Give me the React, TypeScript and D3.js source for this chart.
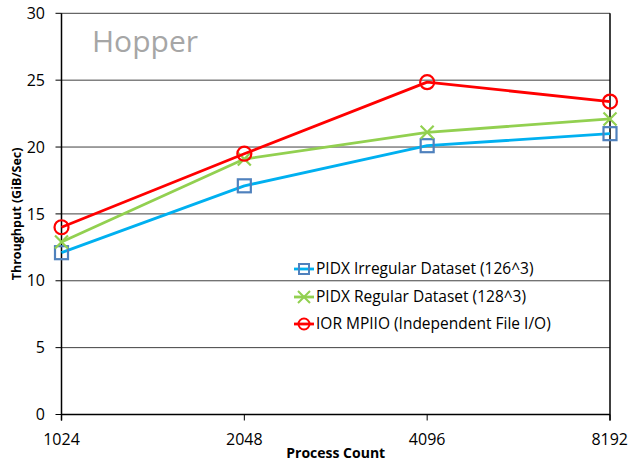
import React from "react";
import * as d3 from "d3";

const categories = ["1024", "2048", "4096", "8192"];
const irregular = [12.1, 17.1, 20.1, 21.0];
const regular = [12.9, 19.1, 21.1, 22.1];
const ior = [14.0, 19.5, 24.85, 23.4];
const yTicks = [0, 5, 10, 15, 20, 25, 30];
const seriesNames = [
  "PIDX Irregular Dataset (126^3)",
  "PIDX Regular Dataset (128^3)",
  "IOR MPIIO (Independent File I/O)",
];

const W = 631;
const H = 462;
const left = 61.5;
const right = 610;
const top = 13.3;
const bottom = 414.5;
const FONT = "'Open Sans', sans-serif";

export default function App() {
  const x = d3.scalePoint<string>().domain(categories).range([left, right]).padding(0);
  const y = d3.scaleLinear().domain([0, 30]).range([bottom, top]);
  const line = d3
    .line<number>()
    .x((_, i) => x(categories[i]) as number)
    .y((d) => y(d));

  const series = [
    { name: seriesNames[0], values: irregular, line: "#00b0f0", marker: "#4f81bd", shape: "square" },
    { name: seriesNames[1], values: regular, line: "#92d050", marker: "#92d050", shape: "x" },
    { name: seriesNames[2], values: ior, line: "#ff0000", marker: "#ff0000", shape: "circle" },
  ];

  const marker = (shape: string, color: string, cx: number, cy: number, key: string) => {
    if (shape === "square")
      return <rect key={key} x={cx - 6.5} y={cy - 6.5} width={13} height={13} fill="none" stroke={color} strokeWidth={2.2} />;
    if (shape === "circle")
      return <circle key={key} cx={cx} cy={cy} r={7} fill="none" stroke={color} strokeWidth={2.2} />;
    return (
      <path key={key} d={`M${cx - 6.5},${cy - 6.5}L${cx + 6.5},${cy + 6.5}M${cx - 6.5},${cy + 6.5}L${cx + 6.5},${cy - 6.5}`} stroke={color} strokeWidth={2.2} fill="none" />
    );
  };

  const legendY = [269, 297, 324];

  return (
    <svg width={W} height={H} style={{ position: "absolute", left: 0, top: 0, background: "#fff" }} fontFamily={FONT}>
      {yTicks.map((t) => (
        <line key={"g" + t} x1={left} x2={right} y1={y(t)} y2={y(t)} stroke={t === 0 ? "#000" : "#404040"} strokeWidth={t === 0 ? 1.5 : 1} />
      ))}
      <line x1={left} x2={left} y1={top} y2={bottom + 6} stroke="#000" strokeWidth={1.5} />
      <line x1={right} x2={right} y1={top} y2={bottom + 6} stroke="#000" strokeWidth={1.5} />
      {yTicks.map((t) => (
        <g key={"yt" + t}>
          <line x1={left - 6} x2={left} y1={y(t)} y2={y(t)} stroke="#000" strokeWidth={1} />
          <text x={45} y={y(t)} dy="0.35em" textAnchor="end" fontSize={16} fill="#000">
            {t}
          </text>
        </g>
      ))}
      {categories.map((c) => (
        <g key={"xt" + c}>
          <line x1={x(c)} x2={x(c)} y1={bottom} y2={bottom + 6} stroke="#000" strokeWidth={1} />
          <text x={x(c) as number} y={445} textAnchor={c === "8192" ? "end" : "middle"} dx={c === "8192" ? 18 : 0} fontSize={16} fill="#000">
            {c}
          </text>
        </g>
      ))}
      <text x={(left + right) / 2} y={458} textAnchor="middle" fontSize={14} fontWeight="bold" fill="#000">
        Process Count
      </text>
      <text transform={`translate(21,${(top + bottom) / 2}) rotate(-90)`} textAnchor="middle" fontSize={12.5} fontWeight="bold" fill="#000">
        Throughput (GiB/Sec)
      </text>
      <text x={92} y={52} fontSize={30} fill="#a6a6a6">
        Hopper
      </text>
      {series.map((s) => (
        <g key={s.name}>
          <path d={line(s.values) as string} fill="none" stroke={s.line} strokeWidth={2.8} strokeLinejoin="round" />
          {s.values.map((v, i) => marker(s.shape, s.marker, x(categories[i]) as number, y(v), s.name + i))}
        </g>
      ))}
      {series.map((s, i) => (
        <g key={"lg" + i}>
          <line x1={294} x2={314} y1={legendY[i]} y2={legendY[i]} stroke={s.line} strokeWidth={2.8} />
          {s.shape === "square" ? (
            <rect x={299} y={legendY[i] - 5} width={10} height={10} fill="none" stroke={s.marker} strokeWidth={2} />
          ) : s.shape === "circle" ? (
            <circle cx={304} cy={legendY[i]} r={5.5} fill="none" stroke={s.marker} strokeWidth={2} />
          ) : (
            <path d={`M298,${legendY[i] - 6}L310,${legendY[i] + 6}M298,${legendY[i] + 6}L310,${legendY[i] - 6}`} stroke={s.marker} strokeWidth={2} />
          )}
          <text x={316} y={legendY[i]} dy="0.35em" fontSize={15.5} fill="#000">
            {s.name}
          </text>
        </g>
      ))}
    </svg>
  );
}
